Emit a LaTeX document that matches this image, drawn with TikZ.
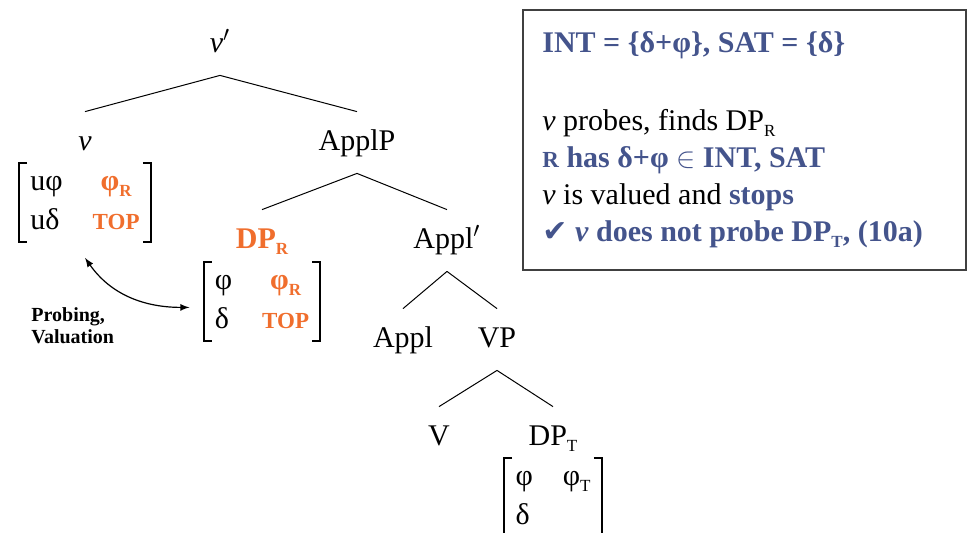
\documentclass[tikz,border=0pt]{standalone}
\usepackage{fontspec}
\setmainfont{Liberation Serif}
\newfontfamily\checkfont{DejaVu Sans}
\usetikzlibrary{arrows,positioning}
\definecolor{orn}{RGB}{240,110,45}
\definecolor{blu}{RGB}{68,84,140}
\newcommand\subsc[1]{\raisebox{-3pt}{\fontsize{8.5}{8.5}\selectfont #1}}
\newcommand\sca[1]{{\fontsize{11.5}{11.5}\selectfont #1}}
\newcommand\orn[1]{\textcolor{orn}{\bfseries #1}}
\newcommand\feats[4]{\begin{tabular}{@{}l@{\hspace{15pt}}c@{}}#1 & #2\\#3 & #4\end{tabular}}
\tikzset{
  lbl/.style   = {inner sep=0pt, text height=19pt, text depth=11.5pt, anchor=base},
  feat/.style  = {inner xsep=5.5pt, inner ysep=0pt},
  bracket/.style = {line width=1pt, line cap=butt, line join=miter},
  info/.style  = {align=left, inner sep=0pt, font=\fontsize{15}{18.5}\selectfont},
  boxline/.style = {draw=black!75, line width=0.75pt},
  branch/.style = {line width=0.5pt}
}

\begin{document}
\begin{tikzpicture}[x=0.5pt, y=0.5pt, font=\fontsize{15}{19.5}\selectfont, >=latex]
\useasboundingbox (0,0) rectangle (968,-532);

% tree labels
\node[lbl] (vbar)    at (220,-52)  {\textit{v}$'$};
\node[lbl] (v)       at (85,-150)  {\textit{v}};
\node[lbl] (applp)   at (357,-150) {ApplP};
\node[lbl] (dpr)     at (262,-248) {\orn{DP\subsc{R}}};
\node[lbl] (applbar) at (447,-248) {Appl$'$};
\node[lbl] (appl)    at (403,-347) {Appl};
\node[lbl] (vp)      at (497,-347) {VP};
\node[lbl] (verb)    at (439,-445) {V};
\node[lbl] (dpt)     at (553,-445) {DP\subsc{T}};

\foreach \p/\c in {vbar/v, vbar/applp, applp/dpr, applp/applbar,
                   applbar/appl, applbar/vp, vp/verb, vp/dpt}
  \draw[branch] (\p.south) -- (\c.north);

% feature matrices
\node[feat, below=6.5pt of v.base] (vfeat)
  {\feats{uφ}{\orn{φ\subsc{R}}}{uδ}{\orn{\sca{TOP}}}};
\node[feat, below=7pt of dpr.base] (dprfeat)
  {\feats{φ}{\orn{φ\subsc{R}}}{δ}{\orn{\sca{TOP}}}};
\node[feat, below=6.5pt of dpt.base] (dptfeat)
  {\feats{φ}{φ\subsc{T}}{δ}{}};

\foreach \n in {vfeat, dprfeat, dptfeat} {
  \draw[bracket] ([xshift=4pt]\n.north west) -- (\n.north west)
    -- (\n.south west) -- ([xshift=4pt]\n.south west);
  \draw[bracket] ([xshift=-4pt]\n.north east) -- (\n.north east)
    -- (\n.south east) -- ([xshift=-4pt]\n.south east);
}

\draw[<->, line width=0.6pt] ([yshift=-8pt]vfeat.south) to[out=-55,in=180]
  ([xshift=-7pt,yshift=-3pt]dprfeat.west);
\node[font=\bfseries\fontsize{10}{11}\selectfont, align=left, anchor=west,
  inner sep=0pt] (probe) at (31,-326) {Probing,\\Valuation};

% summary box
\draw[boxline] (523,-10) rectangle (966,-270);
\node[info, anchor=west] (info) at (542,-140) {%
  \textcolor{blu}{\bfseries INT = \{δ+φ\}, SAT = \{δ\}}\\[20.5pt]
  \textit{v} probes, finds DP\subsc{R}\\
  \textcolor{blu}{\bfseries\sca{R} has δ+φ $\in$ INT, SAT}\\
  \textit{v} is valued and \textcolor{blu}{\bfseries stops}\\
  \textcolor{blu}{\bfseries{\checkfont ✔}\ \textit{v} does not probe DP\subsc{T}, (10a)}};
\end{tikzpicture}
\end{document}
